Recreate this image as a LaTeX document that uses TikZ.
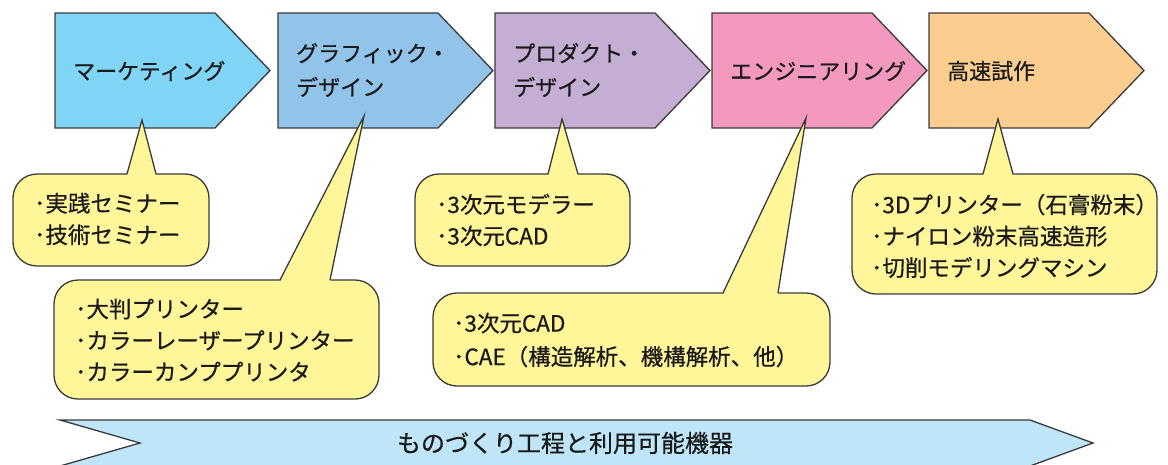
\documentclass[tikz,border=0pt]{standalone}
\usepackage{fontspec}
\setmainfont{Noto Sans CJK JP}[FakeBold=0.6]
\definecolor{cA}{HTML}{80D4F6}
\definecolor{cB}{HTML}{92C3E8}
\definecolor{cC}{HTML}{C5AED3}
\definecolor{cD}{HTML}{F398BF}
\definecolor{cE}{HTML}{FBCE8F}
\definecolor{cY}{HTML}{FFF599}
\definecolor{cBar}{HTML}{BEE6F8}
\definecolor{ln}{HTML}{3A3A3A}
\definecolor{tx}{HTML}{1A1A1A}
\tikzset{
  outl/.style={draw=ln, line width=1.3pt, line join=miter},
  lbl/.style={anchor=west, inner sep=0pt, text=tx, font=\fontsize{22}{34}\selectfont, align=left},
  cl/.style={anchor=west, inner sep=0pt, text=tx, font=\fontsize{22.5}{31.5}\selectfont, align=left},
}
% stage box: #1 left x, #2 color
\newcommand{\stagebox}[2]{%
  \fill[#2] (#1,13) -- (#1+160,13) -- (#1+215,70.5) -- (#1+160,128) -- (#1,128) -- cycle;
  \draw[outl] (#1,13) -- (#1+160,13) -- (#1+215,70.5) -- (#1+160,128) -- (#1,128) -- cycle;
}
% callout: #1 left,#2 top,#3 right,#4 bottom,#5 base left x,#6 base right x,#7 tip x,#8 tip y
\newcommand{\callout}[8]{%
  \draw[outl, fill=cY, rounded corners=24pt] (#1,#2) rectangle (#3,#4);
  \fill[cY] (#5,#2+2) -- (#7,#8) -- (#6,#2+2) -- cycle;
  \draw[outl] (#5,#2) -- (#7,#8) -- (#6,#2);
}
\begin{document}
\begin{tikzpicture}[x=1pt,y=-1pt]
\useasboundingbox (0,0) rectangle (1168,464);
% bottom bar
\fill[cBar] (60,420) -- (1030,420) -- (1093,443) -- (1030,466) -- (60,466) -- (140,443) -- cycle;
\draw[outl] (60,466) -- (140,443) -- (60,420) -- (1030,420) -- (1093,443) -- (1030,466);
\node[anchor=center, inner sep=0pt, text=tx, font=\fontsize{24}{28}\selectfont] (bar) at (565,443) {ものづくり工程と利用可能機器};
% stage boxes
\stagebox{55}{cA}
\stagebox{278}{cB}
\stagebox{495}{cC}
\stagebox{712}{cD}
\stagebox{929}{cE}
\node[lbl] (s1) at (73,71) {マーケティング};
\node[lbl] (s2) at (296,70) {グラフィック・\\デザイン};
\node[lbl] (s3) at (513,70) {プロダクト・\\デザイン};
\node[lbl] (s4) at (730,71) {エンジニアリング};
\node[lbl] (s5) at (947,71) {高速試作};
% callouts
\callout{13}{174}{209}{266}{127}{156}{142}{120}
\node[cl] (c1) at (34,219) {･実践セミナー\\･技術セミナー};
\callout{54}{280}{379}{399}{280}{330}{364}{116}
\node[cl] (c2) at (75,340) {･大判プリンター\\･カラーレーザープリンター\\･カラーカンププリンタ};
\callout{415}{174}{630}{266}{548}{578}{562}{119}
\node[cl] (c3) at (436,220) {･3次元モデラー\\･3次元CAD};
\callout{433}{293}{830}{386}{723}{778}{806}{118}
\node[cl, font=\fontsize{22.5}{33.5}\selectfont] (c4) at (453,340) {･3次元CAD\\･CAE（構造解析、機構解析、他）};
\callout{852}{174}{1157}{294}{983}{1013}{998}{119}
\node[cl] (c5) at (871,236) {･3Dプリンター（石膏粉末）\\･ナイロン粉末高速造形\\･切削モデリングマシン};
\end{tikzpicture}
\end{document}
